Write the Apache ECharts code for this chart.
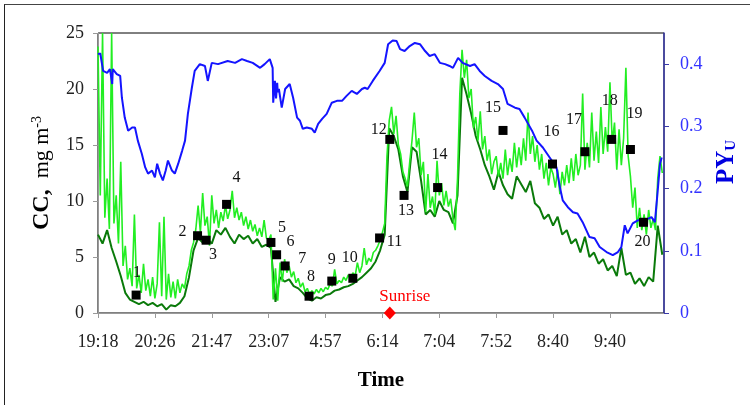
<!DOCTYPE html>
<html>
<head>
<meta charset="utf-8">
<title>CC and PYu</title>
<script src="https://cdn.jsdelivr.net/npm/echarts@6.0.0/dist/echarts.min.js"></script>
<style>
  body { margin: 0; background: #fff; }
  #wrap { position: relative; width: 750px; height: 405px; overflow: hidden; }
  #frame { position: absolute; left: 4px; top: 4px; width: 800px; height: 450px;
           border-left: 1.5px solid #222; border-top: 1.5px solid #444; }
  #chart { position: absolute; left: 0; top: 0; width: 750px; height: 405px; }
</style>
</head>
<body>
<div id="wrap">
  <div id="frame"></div>
  <div id="chart"></div>
</div>
<script>
// x axis runs over sample index; labels sit every 100 samples
const xMax = 995;
const xTicks = [0, 100, 200, 300, 400, 500, 600, 700, 800, 900];
const xLabels = ['19:18', '20:26', '21:47', '23:07', '4:57', '6:14', '7:04', '7:52', '8:40', '9:40'];

// CC (mg m-3), light green trace, one value every 4 samples
const lightStep = 4;
const ccLight = [
  23.8, 10.5, 25, 8.5, 12, 7.5, 25, 8, 10.5, 6.2, 13.5, 4.2, 6, 3, 4, 2.4, 8.8, 2.2, 3.4, 1.8, 4.4, 2.0, 3.0, 1.5, 3.2,
  1.3, 2.6, 8.1, 1.5, 8.6, 1.2, 3.5, 1.4, 2.8, 1.3, 3.0, 1.8, 2.6, 2.2, 3.5, 4.2, 5.6, 6.3, 7.5, 9.6, 7.2, 10.7, 7.8, 8.6, 6.0,
  10.5, 8.0, 9.2, 7.6, 9.0, 8.2, 9.6, 8.4, 9.2, 10.9, 8.5, 9.4, 8.3, 9.0, 7.8, 8.6, 7.5, 8.3, 7.3, 7.9, 6.9, 7.6, 6.8, 8.3, 6.7,
  6.5, 7.0, 1.2, 4.0, 1.1, 4.5, 2.8, 4.8, 3.6, 4.2, 3.2, 3.7, 2.7, 3.1, 2.3, 2.7, 1.9, 2.2, 1.6, 2.0, 1.7, 2.1, 1.8, 2.2, 1.9,
  2.3, 2.1, 2.6, 2.4, 3.9, 2.6, 2.9, 2.7, 3.2, 2.9, 3.4, 3.0, 3.6, 3.3, 4.5, 3.6, 4.2, 5.8, 4.3, 4.9, 4.6, 5.4, 5.6, 6.0, 6.5,
  7.2, 8.0, 14.0, 17.2, 18.4, 16.0, 17.6, 15.0, 14.2, 12.6, 12.0, 11.3, 13.5, 15.4, 17.9, 14.8, 15.6, 12.3, 13.5, 9.0, 12.4, 9.4, 10.4, 8.8, 13.6,
  10.5, 11.6, 9.6, 10.9, 9.5, 10.2, 8.4, 7.4, 12.0, 19.5, 23.5, 21.0, 22.6, 19.2, 20.0, 16.5, 17.5, 15.4, 18.0, 14.6, 15.8, 13.6, 14.6, 12.4, 13.5,
  14.0, 12.2, 13.4, 12.0, 14.6, 12.3, 13.8, 12.6, 15.2, 13.0, 14.8, 13.2, 15.6, 13.6, 17.9, 14.2, 15.8, 13.5, 15.0, 12.8, 14.2, 12.0, 13.4, 11.4, 13.0,
  12.4, 11.2, 12.8, 10.6, 12.6, 11.4, 13.2, 11.6, 13.8, 11.8, 14.2, 12.3, 13.2, 19.6, 12.8, 15.2, 13.0, 17.9, 13.6, 16.2, 13.4, 18.4, 14.2, 16.6, 14.4,
  20.6, 15.2, 17.0, 12.8, 16.4, 13.2, 15.6, 21.9, 14.0, 12.2, 9.4, 11.2, 7.6, 9.4, 7.4, 8.8, 7.0, 9.2, 7.6, 8.4, 7.4, 12.0, 14.0, 12.5
];

// CC, dark green trace, one value every 8 samples
const darkStep = 8;
const ccDark = [
  7.0, 6.2, 7.4, 5.8, 4.6, 3.3, 1.8, 1.2, 1.0, 0.8, 1.0, 0.7, 0.9, 0.6, 0.8, 0.3, 0.7, 0.6, 0.9, 1.5, 3.2, 5.6, 6.7, 6.3, 6.6,
  6.2, 7.4, 7.0, 7.6, 6.8, 6.2, 7.0, 6.6, 6.9, 6.2, 6.6, 5.9, 6.1, 5.8, 1.0, 3.2, 2.8, 3.0, 2.4, 2.2, 1.8, 1.3, 1.1, 1.4, 1.3,
  1.6, 1.7, 2.0, 2.1, 2.3, 2.4, 2.6, 2.9, 3.2, 3.6, 4.0, 4.6, 5.6, 7.0, 16.5, 15.8, 14.6, 12.2, 10.8, 14.8, 14.4, 11.8, 8.8, 9.2, 8.6,
  10.0, 9.2, 9.0, 8.0, 10.5, 21.0, 19.5, 17.8, 15.8, 14.6, 13.2, 12.2, 11.0, 12.6, 11.4, 10.6, 10.2, 12.2, 11.5, 10.8, 11.8, 9.8, 9.4, 8.4, 8.8,
  7.8, 8.6, 7.0, 7.4, 6.2, 6.6, 5.4, 6.8, 5.0, 5.4, 4.4, 4.8, 3.8, 4.2, 3.3, 5.8, 3.4, 3.6, 2.6, 3.1, 2.4, 3.2, 2.8, 7.8, 5.2
];

// PYu (right axis), sample index and value
const pyIdx = [0, 4, 9, 16, 21, 25, 26, 33, 39, 42, 47, 53, 60, 65, 70, 77, 83, 88, 95, 100, 104, 109, 114, 119, 123, 130, 135, 141, 148, 153,
  158, 165, 170, 179, 188, 193, 200, 211, 228, 241, 253, 262, 272, 285, 293, 302, 307, 308, 311, 313, 315, 316, 318, 323, 329, 337, 343, 350, 355, 360,
  367, 376, 381, 387, 394, 402, 411, 420, 429, 437, 446, 455, 464, 469, 474, 483, 495, 504, 510, 518, 525, 531, 539, 548, 557, 566, 575, 583, 592, 601,
  610, 618, 624, 633, 641, 654, 662, 671, 680, 692, 703, 712, 720, 733, 741, 750, 763, 771, 782, 794, 806, 812, 817, 826, 835, 843, 852, 864, 873, 882,
  894, 905, 914, 920, 926, 931, 940, 949, 961, 973, 979, 984, 988, 991];
const pyVal = [0.416, 0.417, 0.389, 0.386, 0.392, 0.368, 0.392, 0.384, 0.381, 0.346, 0.314, 0.293, 0.298, 0.298, 0.277, 0.256, 0.234, 0.224, 0.229, 0.218,
  0.24, 0.224, 0.213, 0.229, 0.245, 0.229, 0.224, 0.24, 0.261, 0.277, 0.32, 0.362, 0.389, 0.4, 0.397, 0.373, 0.402, 0.4, 0.405, 0.402,
  0.408, 0.405, 0.402, 0.394, 0.4, 0.408, 0.394, 0.338, 0.373, 0.345, 0.37, 0.355, 0.36, 0.33, 0.36, 0.368, 0.346, 0.314, 0.309, 0.296,
  0.298, 0.296, 0.29, 0.304, 0.312, 0.32, 0.338, 0.341, 0.341, 0.349, 0.357, 0.352, 0.36, 0.362, 0.36, 0.373, 0.389, 0.402, 0.432, 0.438,
  0.437, 0.424, 0.421, 0.429, 0.434, 0.432, 0.421, 0.413, 0.416, 0.402, 0.4, 0.397, 0.394, 0.41, 0.402, 0.397, 0.4, 0.389, 0.381, 0.373,
  0.368, 0.36, 0.336, 0.33, 0.328, 0.314, 0.293, 0.277, 0.266, 0.25, 0.234, 0.202, 0.181, 0.17, 0.162, 0.16, 0.146, 0.122, 0.12, 0.106,
  0.098, 0.093, 0.098, 0.106, 0.141, 0.128, 0.144, 0.149, 0.149, 0.154, 0.146, 0.197, 0.24, 0.25];

// sampling points 1..20
const sampleIdx = [67, 175, 190, 226, 304, 314, 329, 371, 411, 448, 495, 513, 538, 597, 712, 799, 856, 903, 936, 959];
const sampleCC = [1.6, 6.9, 6.5, 9.7, 6.3, 5.2, 4.2, 1.5, 2.85, 3.1, 6.7, 15.5, 10.5, 11.2, 16.3, 13.3, 14.4, 15.5, 14.6, 8.1];

const sunriseIdx = 513;

// label placement for each numbered point (pixels from the marker)
const labelShift = [[1, -22], [-15, -4], [7, 15], [10, -27], [11, -15], [14, -13], [17, -7], [2, -19], [0, -21], [-3, -20],
  [15, 4], [-11, -10], [2, 15], [2, -33], [-10, -23], [-1, -32], [-11, -32], [-2, -39], [4, -36], [-1, 20]];

const serif = 'Liberation Serif';
const chart = echarts.init(document.getElementById('chart'));

const option = {
  animation: false,
  backgroundColor: 'transparent',
  grid: {
    left: 98, right: 86, top: 33, bottom: 92,
    show: true, borderColor: '#000', borderWidth: 1, backgroundColor: 'transparent'
  },
  xAxis: {
    type: 'value',
    min: 0,
    max: xMax,
    name: 'Time',
    nameLocation: 'middle',
    nameGap: 57,
    nameTextStyle: { fontFamily: serif, fontSize: 21, fontWeight: 'bold', color: '#000' },
    axisLine: { show: true, lineStyle: { color: '#9a9a9a', width: 1 } },
    axisTick: { show: true, length: 5, customValues: xTicks, lineStyle: { color: '#9a9a9a' } },
    axisLabel: {
      customValues: xTicks,
      margin: 20,
      fontFamily: serif,
      fontSize: 18,
      color: '#222',
      formatter: v => xLabels[xTicks.indexOf(v)] || ''
    },
    splitLine: { show: false }
  },
  yAxis: [
    {
      type: 'value',
      min: 0,
      max: 25,
      interval: 5,
      name: '{b|CC,}{r|  mg m}{s|-3}',
      nameLocation: 'middle',
      nameRotate: 90,
      nameGap: 44,
      nameTextStyle: {
        rich: {
          b: { fontFamily: serif, fontSize: 24, fontWeight: 'bold', color: '#000' },
          r: { fontFamily: serif, fontSize: 22, color: '#000' },
          s: { fontFamily: serif, fontSize: 14, color: '#000', verticalAlign: 'top' }
        }
      },
      axisLine: { show: true, lineStyle: { color: '#9a9a9a', width: 1 } },
      axisTick: { show: true, length: 5, lineStyle: { color: '#9a9a9a' } },
      axisLabel: { margin: 14, fontFamily: serif, fontSize: 18, color: '#222' },
      splitLine: { show: false }
    },
    {
      type: 'value',
      position: 'right',
      min: 0,
      max: 0.45,
      name: '{b|PY}{s|U}',
      nameLocation: 'middle',
      nameRotate: 90,
      nameGap: 50,
      nameTextStyle: {
        padding: [0, 0, 0, 22],
        rich: {
          b: { fontFamily: serif, fontSize: 25, fontWeight: 'bold', color: '#0000e0' },
          s: { fontFamily: serif, fontSize: 15, fontWeight: 'bold', color: '#0000e0', verticalAlign: 'bottom' }
        }
      },
      axisLine: { show: true, lineStyle: { color: '#3a3aa8', width: 1.5 } },
      axisTick: { show: true, length: 5, customValues: [0, 0.1, 0.2, 0.3, 0.4], lineStyle: { color: '#3a3aa8' } },
      axisLabel: {
        customValues: [0, 0.1, 0.2, 0.3, 0.4],
        margin: 16, fontFamily: serif, fontSize: 18, color: '#3333ff'
      },
      splitLine: { show: false }
    }
  ],
  series: [
    {
      name: 'CC dark',
      type: 'line',
      yAxisIndex: 0,
      showSymbol: false,
      data: ccDark.map((v, i) => [i * darkStep, v]),
      lineStyle: { color: '#0a7a0a', width: 2 },
      z: 2
    },
    {
      name: 'CC',
      type: 'line',
      yAxisIndex: 0,
      showSymbol: false,
      data: ccLight.map((v, i) => [i * lightStep, v]),
      lineStyle: { color: '#22ee22', width: 1.6 },
      z: 3
    },
    {
      name: 'PYu',
      type: 'line',
      yAxisIndex: 1,
      showSymbol: false,
      data: pyIdx.map((x, i) => [x, pyVal[i]]),
      lineStyle: { color: '#1414ff', width: 2 },
      z: 4
    },
    {
      name: 'samples',
      type: 'scatter',
      yAxisIndex: 0,
      symbol: 'rect',
      symbolSize: 9,
      itemStyle: { color: '#000', opacity: 1 },
      data: sampleIdx.map((x, i) => ({
        value: [x, sampleCC[i]],
        label: { offset: labelShift[i] }
      })),
      label: {
        show: true,
        position: 'inside',
        formatter: p => String(p.dataIndex + 1),
        fontFamily: serif,
        fontSize: 16,
        color: '#111'
      },
      z: 5
    },
    {
      name: 'Sunrise',
      type: 'scatter',
      yAxisIndex: 0,
      symbol: 'diamond',
      symbolSize: [12, 13],
      clip: false,
      itemStyle: { color: '#ff0000', opacity: 1 },
      data: [[sunriseIdx, 0]],
      label: {
        show: true,
        position: 'inside',
        offset: [15, -16],
        formatter: 'Sunrise',
        fontFamily: serif,
        fontSize: 17,
        color: '#ff0000'
      },
      z: 6
    }
  ]
};

chart.setOption(option);
</script>
</body>
</html>
